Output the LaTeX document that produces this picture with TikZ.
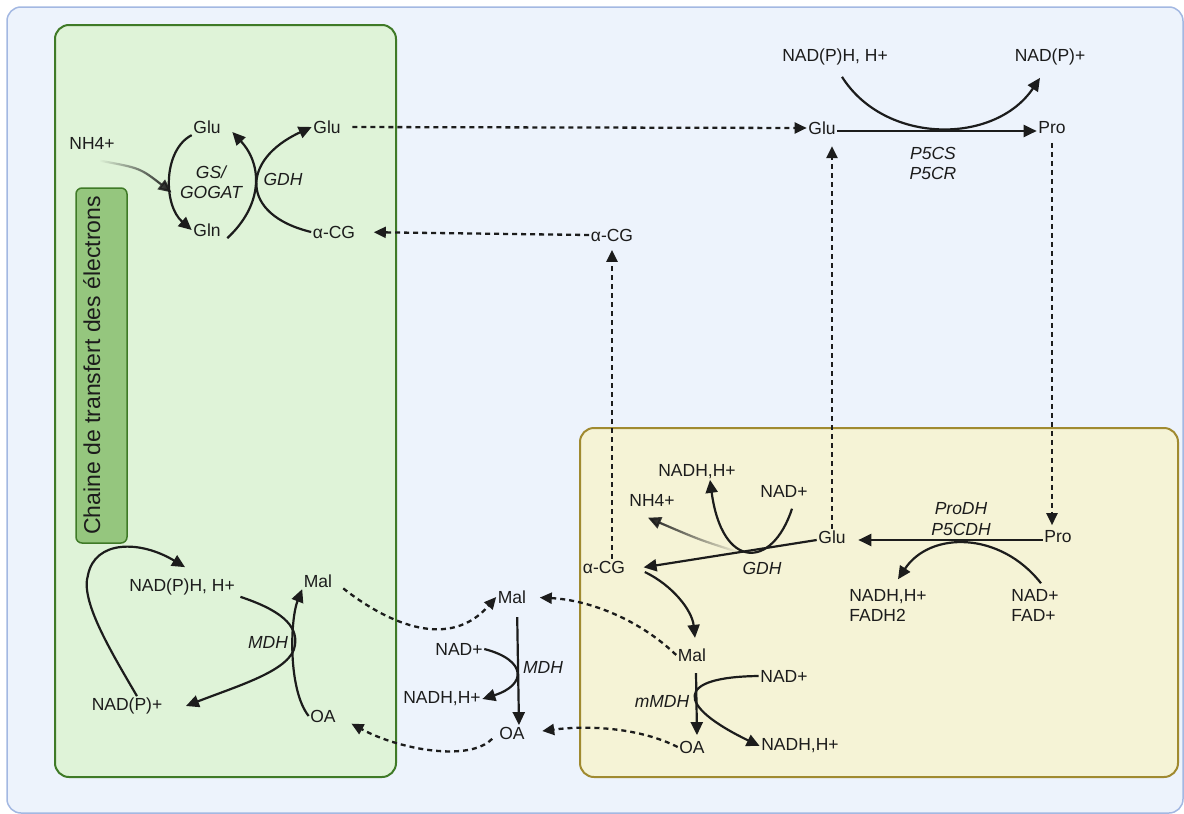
\documentclass[tikz,border=0pt]{standalone}
\usepackage{fontspec}
\setmainfont{Liberation Sans}
\usetikzlibrary{positioning,arrows.meta,fadings}
\definecolor{bgblue}{HTML}{EDF3FC}
\definecolor{bgline}{HTML}{A3B8E2}
\definecolor{cytofill}{HTML}{DFF3D8}
\definecolor{cytoline}{HTML}{3F7A27}
\definecolor{etcfill}{HTML}{95C67E}
\definecolor{mitofill}{HTML}{F5F3D6}
\definecolor{mitoline}{HTML}{A08A30}
\definecolor{ink}{HTML}{1C1C1C}
\newcommand{\molfont}{\fontsize{17.5}{20}\selectfont}

\begin{document}
\begin{tikzpicture}[
x=1pt, y=-1pt,
mol/.style={font=\molfont, text=ink, inner sep=1.5pt},
enz/.style={font=\molfont\itshape, text=ink, inner sep=1pt, align=center},
rxn/.style={draw=ink, line width=2.2pt, -{Triangle[length=13pt,width=12pt]}},
flow/.style={draw=ink, line width=2.3pt, dash pattern=on 5pt off 4pt, -{Triangle[length=12pt,width=11pt]}},
compart/.style={rounded corners=14pt, line width=2pt}]

\useasboundingbox (0,0) rectangle (1184,814);
\draw[rounded corners=14pt, fill=bgblue, draw=bgline, line width=1.5pt] (7,7) rectangle (1183,813);
\draw[compart, fill=cytofill, draw=cytoline] (55,25) rectangle (396,777);
\draw[compart, fill=mitofill, draw=mitoline] (580,428) rectangle (1178,777);

\node[draw=cytoline, fill=etcfill, line width=1.5pt, rounded corners=6pt, rotate=90,
  minimum width=355pt, minimum height=51pt, text height=18pt, text depth=21pt,
  font=\fontsize{23}{26}\selectfont, text=ink] (etc) at (101.5,365.5) {Chaine de transfert des électrons};

\node[mol] (nhG) at (92,143) {NH4+};
\node[mol] (gluG1) at (207,127) {Glu};
\node[mol] (glnG) at (207,230) {Gln};
\node[mol] (gluG2) at (327,127) {Glu};
\node[mol] (acgG) at (334,232) {α-CG};
\node[enz] (gsG) at (211,182) {GS/\\GOGAT};
\node[enz] (gdhG) at (283,179) {GDH};

\node[mol] (nadphG) at (182,587) {NAD(P)H, H+};
\node[mol] (malG) at (318,581) {Mal};
\node[enz] (mdhG) at (268,642) {MDH};
\node[mol] (nadpG) at (127,706) {NAD(P)+};
\node[mol] (oaG) at (323,716) {OA};

\node[mol] (acgM) at (612,235) {α-CG};
\node[mol] (malM) at (512,597) {Mal};
\node[mol] (nadM) at (459,649) {NAD+};
\node[mol] (nadhM) at (442,699) {NADH,H+};
\node[enz] (mdhM) at (543,667) {MDH};
\node[mol] (oaM) at (512,733) {OA};

\node[mol] (nadphT) at (835,57) {NAD(P)H, H+};
\node[mol] (nadpT) at (1050,57) {NAD(P)+};
\node[mol] (gluT) at (822,128) {Glu};
\node[mol] (proT) at (1052,128) {Pro};
\node[enz] (p5cs) at (933,163) {P5CS\\P5CR};

\node[mol] (nadhY1) at (697,472) {NADH,H+};
\node[mol] (nhY) at (652,500) {NH4+};
\node[mol] (nadY1) at (784,491) {NAD+};
\node[mol] (gluY) at (832,537) {Glu};
\node[mol] (acgY) at (604,567) {α-CG};
\node[enz] (gdhY) at (762,568) {GDH};
\node[mol] (proY) at (1058,537) {Pro};
\node[enz, font=\fontsize{17.5}{21}\selectfont\itshape] (prodh) at (961,519) {ProDH\\P5CDH};
\node[mol, align=left] (nadhY2) at (888,605) {NADH,H+\\FADH2};
\node[mol, align=left] (nadY3) at (1035,605) {NAD+\\FAD+};
\node[mol] (malY) at (692,655) {Mal};
\node[enz] (mmdh) at (662,701) {mMDH};
\node[mol] (nadY2) at (784,676) {NAD+};
\node[mol] (oaY) at (692,747) {OA};
\node[mol] (nadhY3) at (800,746) {NADH,H+};

\draw[rxn] (gluG1.south west) .. controls (163,150) and (163,205) .. (glnG.west) coordinate[pos=0.62] (gsJ);
\draw[rxn, path fading=west] ([shift={(8pt,-10pt)}]nhG.south) .. controls (140,168) .. (gsJ);
\draw[rxn] ([xshift=5pt]glnG.south east) .. controls (263,205) and (263,165) .. ([shift={(10pt,-5pt)}]gluG1.east);
\draw[rxn] (acgG.west) .. controls (240,215) and (240,160) .. (gluG2.west);
\draw[flow, shorten <=10pt] (gluG2.east) -- (gluT.west);
\draw[flow, shorten >=17pt] (acgM.west) -- (acgG.east);

\draw[rxn] ([xshift=4pt]nadphG.south east) .. controls (280,610) and (298,625) .. (295,645)
  .. controls (292,670) and (240,685) .. ([xshift=22pt]nadpG.east);
\draw[rxn] ([xshift=10pt]nadpG.north) .. controls (110,650) and (80,600) .. (88,575)
  .. controls (95,540) and (140,540) .. ([shift={(3pt,10pt)}]nadphG.north);
\draw[rxn] (oaG.west) .. controls (288,690) and (290,620) .. (malG.south west);
\draw[flow, shorten <=12pt] (malG.east) .. controls (390,625) and (450,650) .. (malM.west);
\draw[flow, shorten <=8pt, shorten >=16pt] (oaM.west) .. controls (470,762) and (400,750) .. (oaG.east);

\draw[rxn, shorten <=12pt] ([xshift=5pt]malM.south) -- ([xshift=7pt]oaM.north);
\draw[rxn] (nadM.east) .. controls (527,660) and (527,685) .. (nadhM.east);

\draw[rxn] ([yshift=-3pt]gluT.east) -- ([yshift=-3pt]proT.west);
\draw[rxn] ([shift={(7pt,-10pt)}]nadphT.south) .. controls (885,145) and (995,145) .. ([shift={(-10pt,-11pt)}]nadpT.south);
\draw[flow, shorten >=10pt] (gluY.north) -- (gluY.north |- gluT.south);
\draw[flow, shorten <=7pt, shorten >=4pt] (proT.south) -- (proT.south |- proY.north);
\draw[flow, shorten >=7pt] (acgY.north -| acgM.south) -- (acgM.south);

\draw[rxn, shorten >=11pt] ([yshift=-3pt]proY.west) -- ([yshift=-3pt]gluY.east);
\draw[rxn] ([shift={(6pt,4pt)}]nadY3.north) .. controls (1000,531) and (930,531) .. ([shift={(10pt,8pt)}]nadhY2.north);
\draw[rxn, shorten >=17pt] ([yshift=-3pt]gluY.west) -- ([yshift=-3pt]acgY.east) coordinate[pos=0.41] (gdhJ);
\draw[rxn, path fading=east] (gdhJ) .. controls (700,540) .. ([shift={(-4pt,-10pt)}]nhY.south);
\draw[rxn] ([shift={(8pt,-10pt)}]nadY1.south) .. controls (772,570) and (722,570) .. ([shift={(13pt,1pt)}]nadhY1.south);
\draw[rxn] ([shift={(18pt,-5pt)}]acgY.east) .. controls (672,585) and (692,610) .. ([shift={(3pt,9pt)}]malY.north);
\draw[rxn] ([shift={(4pt,-10pt)}]malY.south) -- ([shift={(5pt,4pt)}]oaY.north);
\draw[rxn] (nadY2.west) .. controls (675,677) and (675,705) .. (nadhY3.west);
\draw[flow, shorten >=12pt] (malY.west) .. controls (640,620) and (590,600) .. (malM.east);
\draw[flow, shorten >=16pt] (oaY.west) .. controls (640,728) and (590,725) .. (oaM.east);
\end{tikzpicture}
\end{document}
